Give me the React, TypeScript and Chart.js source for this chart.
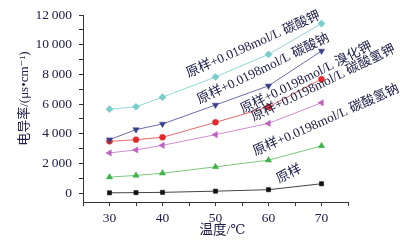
import React, { useEffect, useRef } from "react";
import { Chart, registerables } from "chart.js";

Chart.register(...registerables);

const temps = [30, 35, 40, 50, 60, 70];
const yuanyang = [20, 30, 50, 130, 230, 630];
const nahco3 = [1080, 1190, 1340, 1770, 2220, 3180];
const khco3 = [2710, 2910, 3220, 3940, 4700, 6090];
const kbr = [3490, 3600, 3760, 4770, 5810, 7680];
const na2co3 = [3600, 4280, 4660, 5940, 7230, 9580];
const k2co3 = [5660, 5820, 6470, 7830, 9350, 11430];

const xTickValues = [25, 30, 35, 40, 45, 50, 55, 60, 65, 70, 75];
const xTickLabels = ["", "30", "", "40", "", "50", "", "60", "", "70", ""];
const yTickValues = [0, 1000, 2000, 3000, 4000, 5000, 6000, 7000, 8000, 9000, 10000, 11000, 12000];
const yTickLabels = ["0", "", "2\u2009000", "", "4\u2009000", "", "6\u2009000", "", "8\u2009000", "", "10\u2009000", "", "12\u2009000"];

const seriesLabels = [
  "原样+0.0198mol/L 碳酸钾",
  "原样+0.0198mol/L 碳酸钠",
  "原样+0.0198mol/L 溴化钾",
  "原样+0.0198mol/L 碳酸氢钾",
  "原样+0.0198mol/L 碳酸氢钠",
  "原样",
];
// anchor (data coords) and rotation angle (deg) for each annotation
const labelX = [44.9, 47.0, 55.2, 57.2, 57.5, 62.0];
const labelY = [7800, 6000, 5360, 4850, 2520, 670];
const labelAngle = [24, 26, 26.5, 26, 24, 27];

const yTitle = "电导率/(μs•cm⁻¹)";
const xTitle = "温度/℃";

const FONT = '"Liberation Serif", "Times New Roman", "DejaVu Serif", "Noto Sans CJK SC", serif';
const TEXT = "#20204a";

function pts(vals: number[]) {
  return temps.map((t, i) => ({ x: t, y: vals[i] }));
}

const annotPlugin = {
  id: "annot",
  afterDraw(chart: any) {
    const ctx = chart.ctx;
    const xs = chart.scales.x;
    const ys = chart.scales.y;
    const area = chart.chartArea;
    ctx.save();
    ctx.fillStyle = TEXT;
    ctx.font = `13.2px ${FONT}`;
    ctx.textAlign = "left";
    ctx.textBaseline = "alphabetic";
    seriesLabels.forEach((s, i) => {
      const px = xs.getPixelForValue(labelX[i]);
      const py = ys.getPixelForValue(labelY[i]);
      ctx.save();
      ctx.translate(px, py);
      ctx.rotate((-labelAngle[i] * Math.PI) / 180);
      ctx.fillText(s, 0, 0);
      ctx.restore();
    });
    ctx.font = `13px ${FONT}`;
    ctx.textAlign = "center";
    ctx.textBaseline = "middle";
    ctx.save();
    ctx.translate(25, (area.top + area.bottom) / 2 - 10);
    ctx.rotate(-Math.PI / 2);
    ctx.fillText(yTitle, 0, 0);
    ctx.restore();
    ctx.font = `13.5px ${FONT}`;
    ctx.fillText(xTitle, (area.left + area.right) / 2 + 7, 230);
    ctx.restore();
  },
};

export default function App() {
  const ref = useRef<HTMLCanvasElement | null>(null);
  useEffect(() => {
    if (!ref.current) return;
    const mk = (
      data: number[],
      color: string,
      line: string,
      style: string,
      rot: number,
      r: number
    ) => ({
      data: pts(data),
      borderColor: line,
      backgroundColor: color,
      pointBackgroundColor: color,
      pointBorderColor: color,
      pointStyle: style,
      pointRotation: rot,
      pointRadius: r,
      pointBorderWidth: 0.5,
      borderWidth: 1,
      tension: 0,
    });
    const chart = new Chart(ref.current, {
      type: "line",
      data: {
        datasets: [
          mk(k2co3, "#79cdcb", "#8fd6d2", "rectRot", 0, 3.6),
          mk(na2co3, "#3a3f8c", "#6a6da5", "triangle", 180, 3.6),
          mk(kbr, "#e32b2b", "#df6a6a", "circle", 0, 3),
          mk(khco3, "#c060c0", "#cf8ccf", "triangle", -90, 3.6),
          mk(nahco3, "#3db34a", "#7cc87e", "triangle", 0, 3.6),
          mk(yuanyang, "#111111", "#444444", "rect", 0, 3),
        ] as any,
      },
      options: {
        animation: false,
        responsive: false,
        layout: { padding: { top: 14, right: 52, left: 0, bottom: 0 } },
        plugins: { legend: { display: false }, tooltip: { enabled: false } },
        scales: {
          x: {
            type: "linear",
            min: 25,
            max: 75,
            afterBuildTicks: (s: any) => {
              s.ticks = xTickValues.map((v) => ({ value: v }));
            },
            afterFit: (s: any) => {
              s.height = 42;
            },
            ticks: {
              padding: 4,
              color: TEXT,
              font: { family: FONT, size: 13.5 },
              maxRotation: 0,
              autoSkip: false,
              callback: (v: any) => xTickLabels[xTickValues.indexOf(Number(v))] ?? "",
            },
            grid: {
              display: true,
              drawOnChartArea: false,
              drawTicks: true,
              tickLength: 4,
              color: "#333",
            },
            border: { display: true, color: "#333", width: 1 },
          },
          y: {
            type: "linear",
            min: -600,
            max: 12000,
            afterBuildTicks: (s: any) => {
              s.ticks = yTickValues.map((v) => ({ value: v }));
            },
            afterFit: (s: any) => {
              s.width = 83;
            },
            ticks: {
              padding: 7,
              color: TEXT,
              font: { family: FONT, size: 13.5 },
              autoSkip: false,
              callback: (v: any) => yTickLabels[yTickValues.indexOf(Number(v))] ?? "",
            },
            grid: {
              display: true,
              drawOnChartArea: false,
              drawTicks: true,
              tickLength: 4,
              color: "#333",
            },
            border: { display: true, color: "#333", width: 1 },
          },
        },
      },
      plugins: [annotPlugin],
    } as any);
    let alive = true;
    if ((document as any).fonts) {
      Promise.all([
        (document as any).fonts.load('12px "Liberation Serif"'),
        (document as any).fonts.load('12px "Noto Sans CJK SC"', "原样"),
      ]).then(() => {
        if (alive) chart.update();
      });
    }
    return () => {
      alive = false;
      chart.destroy();
    };
  }, []);
  return (
    <div
      style={{
        position: "fixed",
        left: 0,
        top: 0,
        width: 400,
        height: 244,
        background: "#fff",
      }}
    >
      <canvas ref={ref} width={400} height={244} />
    </div>
  );
}
